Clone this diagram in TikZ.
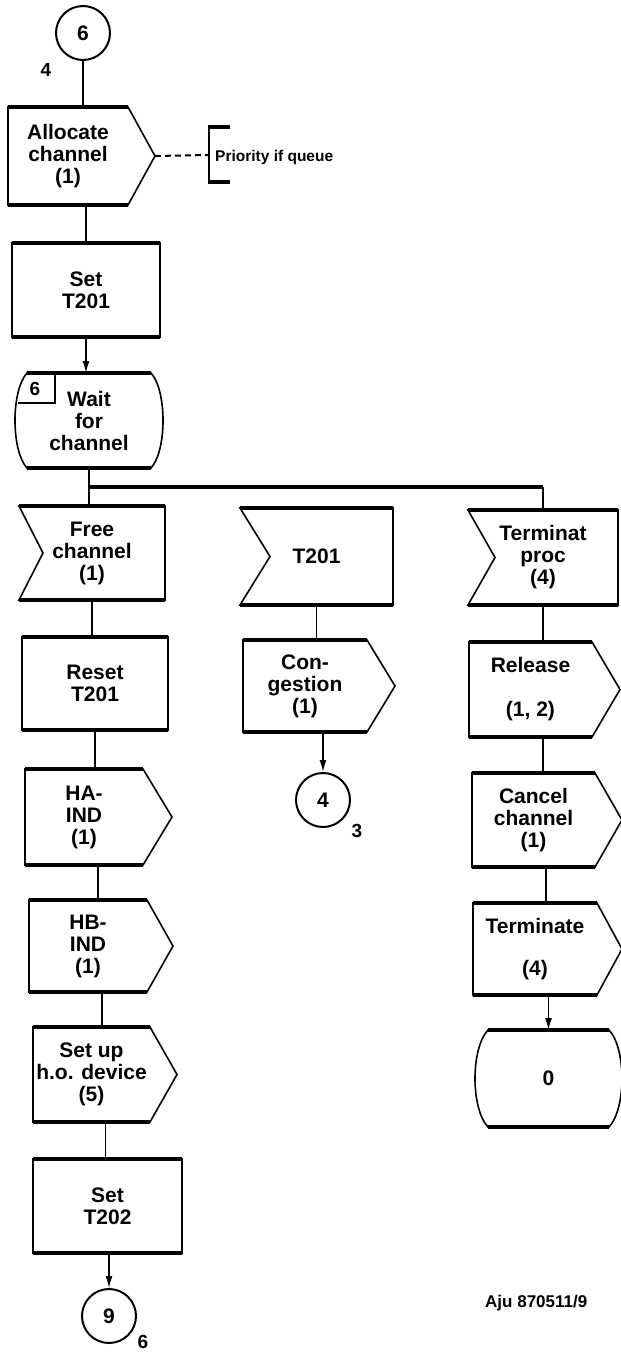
\documentclass[tikz,border=0pt]{standalone}
\usepackage{fontspec}
\setmainfont{Liberation Sans}
\usetikzlibrary{arrows.meta,calc}
\tikzset{
  every node/.style={font=\bfseries\fontsize{21}{22}\selectfont, align=center},
  frame/.style={inner sep=0pt, outer sep=0pt},
  edgeline/.style={line width=1.6pt, line join=miter},
  heavy/.style={line width=3.6pt},
  conn/.style={line width=1.5pt},
  arr/.style={conn, -{Latex[length=12pt,width=7pt]}},
  circ/.style={circle, draw, line width=2pt, minimum size=54pt, inner sep=0pt},
  small/.style={font=\bfseries\fontsize{19}{20}\selectfont},
  refno/.style={font=\bfseries\fontsize{17}{18}\selectfont},
  note/.style={font=\bfseries\fontsize{15.5}{17}\selectfont},
  dashline/.style={line width=2pt, dash pattern=on 6pt off 4pt},
}
\newcommand\shapenode[6]{\node[frame,minimum width={(#4)-(#2)},minimum height={(#5)-(#3)}] (#1) at ({((#2)+(#4))/2},{((#3)+(#5))/2}) {#6};}
\newcommand\heavyedges[1]{\draw[heavy] (#1.north west) -- (#1.north east); \draw[heavy] (#1.south west) -- (#1.south east);}
\newcommand\drawtask[1]{\draw[edgeline] (#1.north west) rectangle (#1.south east); \heavyedges{#1}}
\newcommand\drawout[2]{\draw[edgeline] (#1.north west) -- (#1.north east) -- ($(#1.east)+(#2,0)$) -- (#1.south east) -- (#1.south west) -- cycle; \heavyedges{#1}}
\newcommand\drawin[2]{\draw[edgeline] (#1.north west) -- (#1.north east) -- (#1.south east) -- (#1.south west) -- ($(#1.west)+(#2,0)$) -- cycle; \heavyedges{#1}}
\newcommand\drawstate[2]{%
  \draw[edgeline] ($(#1.north west)+(#2,0)$) -- ($(#1.north east)+(-#2,0)$)
    .. controls ($(#1.east)+(#2/3,-30)$) and ($(#1.east)+(#2/3,30)$) .. ($(#1.south east)+(-#2,0)$)
    -- ($(#1.south west)+(#2,0)$)
    .. controls ($(#1.west)+(-#2/3,30)$) and ($(#1.west)+(-#2/3,-30)$) .. cycle;
  \draw[heavy] ($(#1.north west)+(#2,0)$) -- ($(#1.north east)+(-#2,0)$);
  \draw[heavy] ($(#1.south west)+(#2,0)$) -- ($(#1.south east)+(-#2,0)$);}
\begin{document}
\begin{tikzpicture}[x=1pt,y=-1pt]
\useasboundingbox (0,0) rectangle (621,1355);
\fill[white] (0,0) rectangle (621,1355);

% ---- left column ----
\node[circ] (c6) at (83,33) {6};
\node[small] (l4) at (46,70) {4};

\shapenode{alloc}{8}{107}{128}{205}{Allocate\\channel\\(1)}
\drawout{alloc}{27}
\coordinate (allocTip) at ($(alloc.east)+(27,0)$);
\coordinate (brk) at (209,155);
\draw[dashline] (allocTip) -- (brk);
\draw[line width=2pt] (209,127) -- (209,182);
\draw[heavy] (208,127) -- (230,127);
\draw[heavy] (208,182) -- (230,182);
\node[note, anchor=west, inner sep=0pt] (prio) at (215,157) {Priority if queue};

\shapenode{set1}{12}{243}{160}{337}{Set\\T201}
\drawtask{set1}

\shapenode{wait}{15}{373}{163}{468}{Wait\\for\\channel}
\drawstate{wait}{12}
\draw[edgeline] (55,374) -- (55,403) -- (18,403);
\node[small] (w6) at (35,389) {6};

\shapenode{free}{19}{506}{165}{600}{Free\\channel\\(1)}
\drawin{free}{24}

\shapenode{reset}{22}{637}{168}{730}{Reset\\T201}
\drawtask{reset}

\shapenode{haind}{25}{769}{143}{865}{HA-\\IND\\(1)}
\drawout{haind}{29}

\shapenode{hbind}{29}{900}{147}{992}{HB-\\IND\\(1)}
\drawout{hbind}{26}

\shapenode{setup}{33}{1027}{150}{1122}{Set up\\h.o. device\\(5)}
\drawout{setup}{27}

\shapenode{set2}{33}{1159}{182}{1253}{Set\\T202}
\drawtask{set2}

\node[circ] (c9) at (109,1316) {9};
\node[small] (l6) at (143,1342) {6};

% ---- middle column ----
\shapenode{t201}{240}{508}{393}{605}{T201}
\drawin{t201}{30}

\shapenode{cong}{243}{640}{367}{732}{Con-\\gestion\\(1)}
\drawout{cong}{28}

\node[circ] (c4) at (323,800) {4};
\node[small] (l3) at (357,831) {3};

% ---- right column ----
\shapenode{termp}{468}{510}{618}{605}{Terminat\\proc\\(4)}
\drawin{termp}{27}

\shapenode{release}{469}{642}{592}{737}{Release\\[22pt](1, 2)}
\drawout{release}{28}

\shapenode{cancel}{472}{773}{595}{867}{Cancel\\channel\\(1)}
\drawout{cancel}{27}

\shapenode{term}{473}{903}{597}{995}{Terminate\\[20pt](4)}
\drawout{term}{25}

\shapenode{zero}{475}{1030}{622}{1127}{0}
\drawstate{zero}{13}

\node[refno, anchor=west, inner sep=0pt] (ref) at (485,1303) {Aju 870511/9};

% ---- connectors ----
\draw[conn] (c6.south) -- (c6.south |- alloc.north);
\draw[conn] (set1.north |- alloc.south) -- (set1.north);
\draw[arr] (set1.south) -- (set1.south |- wait.north);
\coordinate (bus) at (89,487);
\draw[conn] (wait.south) -- (wait.south |- free.north);
\draw[heavy] (bus) -- (bus -| termp.north);
\draw[conn] (bus -| termp.north) -- (termp.north);
\draw[conn] (free.south) -- (free.south |- reset.north);
\draw[conn] (reset.south) -- (reset.south |- haind.north);
\draw[conn] ([xshift=14pt]haind.south) -- ([xshift=14pt]haind.south |- hbind.north);
\draw[conn] ([xshift=14pt]hbind.south) -- ([xshift=14pt]hbind.south |- setup.north);
\draw[conn] ([xshift=14pt]setup.south) -- ([xshift=14pt]setup.south |- set2.north);
\draw[arr] (set2.south -| c9.north) -- (c9.north);
\draw[conn] (t201.south) -- (t201.south |- cong.north);
\draw[arr] (c4.north |- cong.south) -- (c4.north);
\draw[conn] (termp.south) -- (termp.south |- release.north);
\draw[conn] (termp.south |- release.south) -- (termp.south |- cancel.north);
\draw[conn] ([xshift=3pt]termp.south |- cancel.south) -- ([xshift=3pt]termp.south |- term.north);
\draw[arr] (zero.north |- term.south) -- (zero.north);
\end{tikzpicture}
\end{document}
